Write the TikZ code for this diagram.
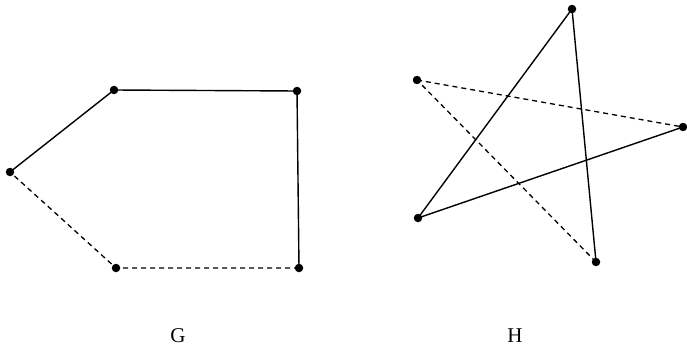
\documentclass[tikz,border=0pt]{standalone}
\usepackage{fontspec}
\setmainfont{Liberation Serif}
\begin{document}
\begin{tikzpicture}[x=1pt,y=-1pt,
  dot/.style={circle,fill=black,inner sep=0pt,minimum size=8.5pt},
  edge/.style={line width=1.4pt},
  dedge/.style={line width=1.3pt,dash pattern=on 5pt off 4pt},
  lbl/.style={anchor=base,inner sep=0pt,font=\fontsize{21}{25}\selectfont}]
\useasboundingbox (0,0) rectangle (687,350);
% G
\node[dot] (g1) at (10,172) {};
\node[dot] (g2) at (114,90) {};
\node[dot] (g3) at (297,91) {};
\node[dot] (g4) at (299,268) {};
\node[dot] (g5) at (116,268) {};
\draw[edge] (g1.center) -- (g2.center) -- (g3.center) -- (g4.center);
\draw[dedge] (g4.center) -- (g5.center) -- (g1.center);
% H
\node[dot] (h1) at (572,9) {};
\node[dot] (h2) at (418,218) {};
\node[dot] (h3) at (683,127) {};
\node[dot] (h4) at (596,262) {};
\node[dot] (h5) at (417,80) {};
\draw[edge] (h3.center) -- (h2.center) -- (h1.center) -- (h4.center);
\draw[dedge] (h5.center) -- (h3.center);
\draw[dedge] (h4.center) -- (h5.center);
\node[lbl] (lg) at (178,342) {G};
\node[lbl] (lh) at (515,342) {H};
\end{tikzpicture}
\end{document}
